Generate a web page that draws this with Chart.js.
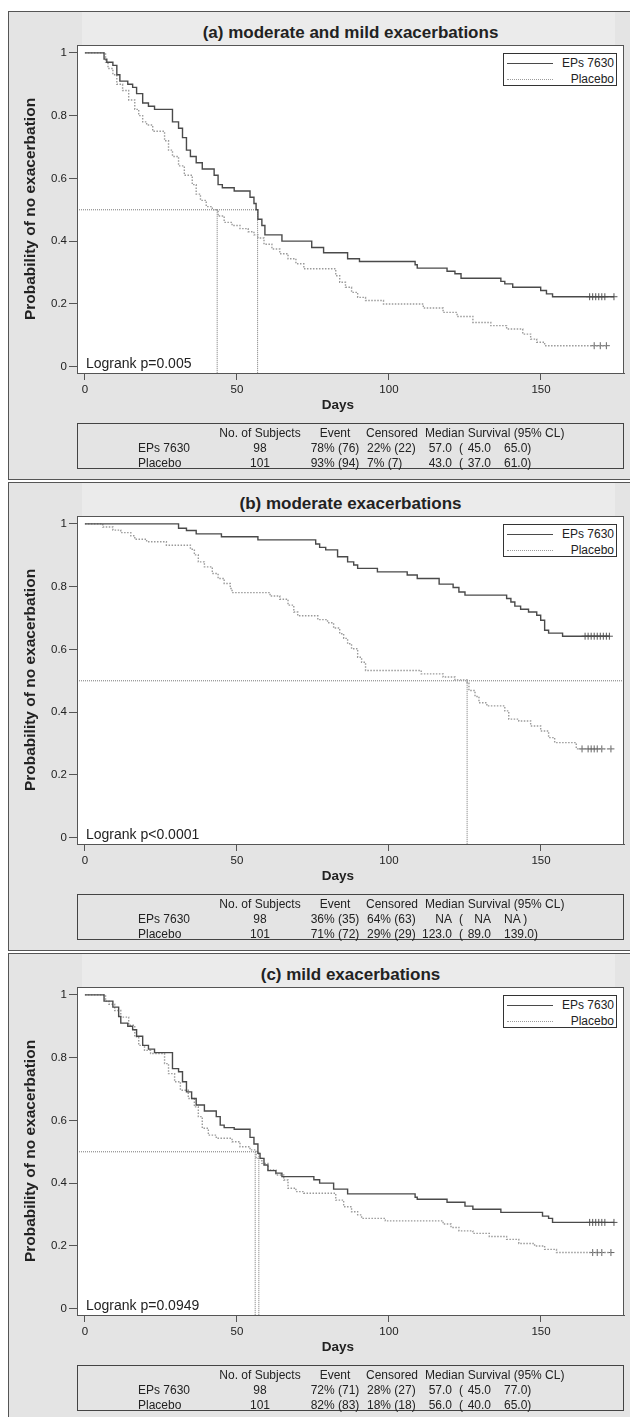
<!DOCTYPE html>
<html>
<head>
<meta charset="utf-8">
<script src="https://cdn.jsdelivr.net/npm/chart.js@4.4.1/dist/chart.umd.min.js"></script>
<style>
  body { margin: 0; background: #fff; width: 630px; height: 1417px; overflow: hidden; position: relative;
         font-family: "Liberation Sans", Arial, sans-serif; color: #222; }
  .panel { position: absolute; left: 8px; width: 640px; height: 469px; background: #e4e4e4;
           border: 1px solid #555; box-sizing: border-box; }
  .band { position: absolute; left: 73px; top: 0; width: 533px; height: 33px; background: #ebebeb; }
  .title { position: absolute; left: 68px; width: 547px; top: 11px; text-align: center;
           font-weight: bold; font-size: 17px; line-height: 20px; }
  canvas { position: absolute; left: 0; top: 0; }
  .legend { position: absolute; left: 494px; top: 41px; width: 114px; height: 33px; background: #fff;
            border: 1px solid #333; box-sizing: border-box; font-size: 12px; }
  .legend div { position: absolute; right: 2px; line-height: 14px; }
  .legend span { position: absolute; left: 3px; width: 46px; height: 0; }
  .logrank { position: absolute; left: 77px; font-size: 14px; line-height: 16px; }
  .days { position: absolute; left: 300px; width: 58px; text-align: center; top: 385px;
          font-weight: bold; font-size: 13.5px; line-height: 16px; }
  .table { position: absolute; left: 68px; top: 411px; width: 547px; height: 46px; border: 1px solid #444;
           box-sizing: border-box; font-size: 12px; }
  .table span { position: absolute; line-height: 14px; white-space: pre; }
</style>
</head>
<body>
<script>
// axis ticks
const xTicks = [0, 50, 100, 150];
const yTicks = [0, 0.2, 0.4, 0.6, 0.8, 1];
const xMin = -2.6, xMax = 177.3, yMin = -0.02, yMax = 1.025;
const groups = ["EPs 7630", "Placebo"];
const tableHead = ["No. of Subjects", "Event", "Censored", "Median Survival (95% CL)"];

// (a) moderate and mild exacerbations
const aTitle = "(a) moderate and mild exacerbations";
const aLogrank = "Logrank p=0.005";
const aEpsDays = [0, 6.3, 7.2, 9.2, 10.5, 11.5, 14.1, 15.7, 17.0, 19.0, 20.9, 22.9, 28.8, 30.8, 32.1, 33.4, 34.7, 36.6, 38.6, 42.5, 43.8, 45.2, 49.1, 54.3, 55.6, 56.3, 56.9, 58.2, 59.2, 64.8, 74.6, 78.5, 86.4, 90.3, 108.6, 109.3, 119.1, 121.7, 123.7, 136.8, 138.1, 140.7, 149.9, 151.8, 153.8];
const aEpsSurv = [1, 0.98, 0.97, 0.96, 0.93, 0.91, 0.90, 0.89, 0.87, 0.84, 0.83, 0.82, 0.78, 0.76, 0.73, 0.69, 0.67, 0.65, 0.63, 0.61, 0.58, 0.57, 0.56, 0.54, 0.52, 0.50, 0.47, 0.45, 0.42, 0.40, 0.38, 0.363, 0.344, 0.335, 0.325, 0.314, 0.304, 0.296, 0.282, 0.272, 0.264, 0.253, 0.243, 0.232, 0.223];
const aPlbDays = [0, 6.8, 7.6, 9.2, 10.5, 12.4, 14.4, 16.4, 17.7, 19.0, 20.3, 22.3, 26.2, 27.5, 28.8, 30.8, 32.7, 35.3, 36.6, 38.0, 39.9, 41.9, 43.8, 45.8, 48.4, 51.0, 53.7, 55.6, 56.9, 58.9, 61.5, 64.1, 66.8, 69.4, 72.0, 82.5, 83.8, 85.7, 87.7, 89.7, 92.3, 98.2, 111.3, 117.8, 122.4, 127.6, 133.5, 138.7, 144.0, 146.6, 148.6, 151.2, 153.1];
const aPlbSurv = [1, 0.97, 0.95, 0.93, 0.90, 0.88, 0.85, 0.82, 0.80, 0.78, 0.77, 0.75, 0.72, 0.69, 0.67, 0.64, 0.61, 0.58, 0.55, 0.53, 0.51, 0.50, 0.48, 0.46, 0.45, 0.44, 0.43, 0.42, 0.41, 0.39, 0.375, 0.36, 0.344, 0.328, 0.312, 0.29, 0.269, 0.253, 0.237, 0.221, 0.211, 0.20, 0.187, 0.173, 0.16, 0.141, 0.131, 0.12, 0.104, 0.088, 0.078, 0.067, 0.067];
const aEpsCens = [166.0, 167.0, 168.0, 169.0, 170.0, 171.0, 174.0];
const aPlbCens = [167.5, 169.5, 171.5];
const aMedianDays = [43.5, 56.8];
const aSubjects = ["98", "101"];
const aEvent = ["78% (76)", "93% (94)"];
const aCensored = ["22% (22)", "7% (7)"];
const aMedian = ["57.0", "43.0"];
const aLower = ["45.0", "37.0"];
const aUpper = ["65.0)", "61.0)"];

// (b) moderate exacerbations
const bTitle = "(b) moderate exacerbations";
const bLogrank = "Logrank p<0.0001";
const bEpsDays = [0, 30.8, 33.4, 36.6, 44.9, 56.9, 75.9, 77.2, 79.2, 83.1, 86.4, 88.4, 89.7, 96.2, 106.0, 109.3, 116.5, 121.1, 123.0, 125.0, 138.7, 140.1, 141.4, 143.3, 145.9, 148.6, 149.9, 151.2, 152.5, 157.1];
const bEpsSurv = [1, 0.986, 0.979, 0.968, 0.959, 0.949, 0.936, 0.925, 0.917, 0.895, 0.879, 0.869, 0.858, 0.847, 0.837, 0.826, 0.808, 0.797, 0.783, 0.773, 0.762, 0.751, 0.738, 0.728, 0.719, 0.709, 0.693, 0.661, 0.652, 0.642];
const bPlbDays = [0, 5.9, 9.2, 11.8, 15.1, 16.4, 20.3, 26.8, 34.7, 36.0, 37.3, 39.3, 41.9, 43.8, 45.8, 47.8, 48.4, 60.9, 64.1, 66.8, 68.7, 70.0, 76.6, 79.8, 81.8, 83.8, 85.1, 86.4, 87.7, 89.7, 91.0, 92.3, 110.6, 117.8, 121.7, 125.7, 126.3, 128.3, 129.6, 132.2, 138.1, 139.4, 142.7, 146.6, 149.9, 152.5, 154.5, 161.6];
const bPlbSurv = [1, 0.99, 0.98, 0.972, 0.962, 0.951, 0.943, 0.932, 0.919, 0.901, 0.879, 0.863, 0.842, 0.826, 0.81, 0.794, 0.781, 0.77, 0.76, 0.741, 0.719, 0.707, 0.695, 0.685, 0.668, 0.65, 0.635, 0.618, 0.602, 0.575, 0.559, 0.533, 0.522, 0.512, 0.503, 0.492, 0.469, 0.45, 0.43, 0.42, 0.404, 0.378, 0.372, 0.356, 0.34, 0.319, 0.303, 0.283];
const bEpsCens = [164.5, 165.5, 166.5, 167.5, 168.5, 169.5, 170.5, 171.5, 172.5];
const bPlbCens = [163.5, 165.5, 166.5, 167.5, 168.5, 170.0, 173.0];
const bMedianDays = [125.7];
const bSubjects = ["98", "101"];
const bEvent = ["36% (35)", "71% (72)"];
const bCensored = ["64% (63)", "29% (29)"];
const bMedian = ["NA", "123.0"];
const bLower = ["NA", "89.0"];
const bUpper = ["NA )", "139.0)"];

// (c) mild exacerbations
const cTitle = "(c) mild exacerbations";
const cLogrank = "Logrank p=0.0949";
const cEpsDays = [0, 6.3, 9.2, 11.1, 11.8, 14.1, 15.7, 17.0, 19.0, 20.9, 22.9, 28.8, 30.8, 32.1, 33.4, 35.1, 36.6, 39.3, 43.2, 44.5, 45.8, 49.1, 54.3, 55.6, 56.9, 57.6, 58.9, 60.2, 62.8, 64.8, 75.3, 77.2, 81.8, 86.4, 108.6, 109.3, 119.1, 125.0, 127.6, 136.8, 150.5, 152.5, 153.8];
const cEpsSurv = [1, 0.98, 0.961, 0.931, 0.91, 0.90, 0.889, 0.868, 0.839, 0.827, 0.816, 0.765, 0.755, 0.723, 0.691, 0.67, 0.649, 0.63, 0.612, 0.585, 0.577, 0.572, 0.546, 0.525, 0.495, 0.479, 0.458, 0.44, 0.432, 0.421, 0.411, 0.40, 0.381, 0.366, 0.355, 0.349, 0.339, 0.327, 0.317, 0.307, 0.295, 0.288, 0.275];
const cPlbDays = [0, 6.8, 7.9, 9.8, 11.8, 14.4, 16.4, 17.7, 19.6, 21.6, 26.2, 27.5, 29.5, 31.4, 34.0, 36.0, 37.3, 38.6, 40.6, 43.2, 48.4, 51.0, 54.3, 56.3, 58.2, 60.2, 62.8, 65.4, 66.8, 69.4, 72.0, 82.5, 85.1, 87.7, 89.7, 91.0, 98.8, 117.8, 120.4, 123.0, 127.6, 133.0, 138.7, 142.7, 147.9, 151.2, 155.1];
const cPlbSurv = [1, 0.98, 0.97, 0.95, 0.929, 0.903, 0.866, 0.839, 0.823, 0.813, 0.781, 0.749, 0.723, 0.696, 0.67, 0.643, 0.612, 0.575, 0.553, 0.543, 0.532, 0.516, 0.506, 0.479, 0.463, 0.442, 0.426, 0.41, 0.384, 0.373, 0.368, 0.346, 0.325, 0.309, 0.299, 0.288, 0.28, 0.27, 0.259, 0.248, 0.24, 0.23, 0.221, 0.208, 0.20, 0.189, 0.179];
const cEpsCens = [166.0, 167.0, 168.0, 169.0, 170.0, 171.0, 174.0];
const cPlbCens = [167.0, 168.5, 170.0, 173.0];
const cMedianDays = [56, 57.2];
const cSubjects = ["98", "101"];
const cEvent = ["72% (71)", "82% (83)"];
const cCensored = ["28% (27)", "18% (18)"];
const cMedian = ["57.0", "56.0"];
const cLower = ["45.0", "40.0"];
const cUpper = ["77.0)", "65.0)"];

const epsColor = "#4a4a4a";
const plbColor = "#9a9a9a";
const refColor = "#777";

const plotBox = {
  id: "plotBox",
  beforeDraw(chart) {
    const a = chart.chartArea, ctx = chart.ctx;
    ctx.save();
    ctx.fillStyle = "#fff";
    ctx.fillRect(a.left, a.top, a.right - a.left, a.bottom - a.top);
    ctx.restore();
  },
  afterDraw(chart) {
    const a = chart.chartArea, ctx = chart.ctx;
    ctx.save();
    ctx.strokeStyle = "#555";
    ctx.lineWidth = 1;
    ctx.strokeRect(a.left + 0.5, a.top + 0.5, a.right - a.left - 1, a.bottom - a.top);
    ctx.restore();
  }
};

function km(days, surv, end) {
  const pts = days.map((d, i) => ({ x: d, y: surv[i] }));
  pts.push({ x: end, y: surv[surv.length - 1] });
  return pts;
}

function marks(days, level) {
  return days.map(d => ({ x: d, y: level }));
}

function addText(parent, cls, text, style) {
  const el = document.createElement("div");
  el.className = cls;
  el.textContent = text;
  Object.assign(el.style, style || {});
  parent.appendChild(el);
  return el;
}

function makePanel(top, p) {
  const panel = document.createElement("div");
  panel.className = "panel";
  panel.style.top = top + "px";
  document.body.appendChild(panel);
  addText(panel, "band", "");
  addText(panel, "title", p.title);

  const canvas = document.createElement("canvas");
  canvas.style.width = "620px";
  canvas.style.height = "412px";
  panel.appendChild(canvas);

  const epsEnd = p.epsCens[p.epsCens.length - 1];
  const plbEnd = p.plbCens[p.plbCens.length - 1];
  const epsLast = p.epsSurv[p.epsSurv.length - 1];
  const plbLast = p.plbSurv[p.plbSurv.length - 1];

  // median reference lines at 0.5
  const refSets = [{ data: [{ x: xMin, y: 0.5 }, { x: p.medianEnd, y: 0.5 }] }];
  p.medianDays.forEach(d => refSets.push({ data: [{ x: d, y: 0.5 }, { x: d, y: yMin }] }));

  const datasets = [
    { label: groups[0], data: km(p.epsDays, p.epsSurv, epsEnd), stepped: true,
      borderColor: epsColor, borderWidth: 1.4, pointRadius: 0 },
    { label: groups[1], data: km(p.plbDays, p.plbSurv, plbEnd), stepped: true,
      borderColor: plbColor, borderWidth: 1.4, borderDash: [1.5, 1.5], pointRadius: 0 },
    { label: "cens1", data: marks(p.epsCens, epsLast), showLine: false,
      pointStyle: "cross", pointRadius: 3.5, borderColor: "#555", borderWidth: 1 },
    { label: "cens2", data: marks(p.plbCens, plbLast), showLine: false,
      pointStyle: "cross", pointRadius: 3.5, borderColor: "#666", borderWidth: 1 }
  ];
  refSets.forEach(r => datasets.push(Object.assign(r, {
    label: "ref", borderColor: refColor, borderWidth: 1, borderDash: [1, 1], pointRadius: 0 })));

  new Chart(canvas, {
    type: "line",
    data: { datasets: datasets },
    options: {
      responsive: false,
      animation: false,
      events: [],
      layout: { padding: { left: 0, top: 33, right: 5, bottom: 0 } },
      plugins: { legend: { display: false }, tooltip: { enabled: false } },
      scales: {
        x: {
          type: "linear", min: xMin, max: xMax,
          afterBuildTicks: s => { s.ticks = xTicks.map(v => ({ value: v })); },
          afterFit: s => { s.height = 51; },
          grid: { display: true, drawOnChartArea: false, drawTicks: true, tickLength: 7, color: "#555" },
          border: { display: true, color: "#555", width: 1 },
          ticks: { color: "#222", font: { family: "Liberation Sans", size: 11.5 }, padding: 3, maxRotation: 0 }
        },
        y: {
          type: "linear", min: yMin, max: yMax,
          afterBuildTicks: s => { s.ticks = yTicks.map(v => ({ value: v })); },
          afterFit: s => { s.width = 68; },
          grid: { display: true, drawOnChartArea: false, drawTicks: true, tickLength: 8, color: "#555" },
          border: { display: true, color: "#555", width: 1 },
          ticks: { color: "#222", font: { family: "Liberation Sans", size: 11.5 }, padding: 2,
                   callback: v => String(v) },
          title: { display: true, text: "Probability of no exacerbation", color: "#222",
                   font: { family: "Liberation Sans", size: 15.5, weight: "bold" }, padding: { top: 12, bottom: 0 } }
        }
      }
    },
    plugins: [plotBox]
  });

  // legend inside plot
  const lg = addText(panel, "legend", "");
  groups.forEach((g, i) => {
    const t = document.createElement("div");
    t.textContent = g;
    t.style.top = (i === 0 ? 2 : 18) + "px";
    lg.appendChild(t);
    const s = document.createElement("span");
    s.style.top = (i === 0 ? 9 : 25) + "px";
    s.style.borderTop = i === 0 ? "1px solid " + epsColor : "1px dotted " + plbColor;
    lg.appendChild(s);
  });

  addText(panel, "logrank", p.logrank, { top: "343px" });
  addText(panel, "days", "Days");

  // summary table
  const tb = addText(panel, "table", "");
  const cell = (txt, x, y, align) => {
    const s = document.createElement("span");
    s.textContent = txt;
    s.style.top = y + "px";
    if (align === "center") { s.style.left = (x - 60) + "px"; s.style.width = "120px"; s.style.textAlign = "center"; }
    else if (align === "right") { s.style.right = (545 - x) + "px"; }
    else { s.style.left = x + "px"; }
    tb.appendChild(s);
  };
  cell(tableHead[0], 182, 2, "center");
  cell(tableHead[1], 257, 2, "center");
  cell(tableHead[2], 288, 2);
  cell(tableHead[3], 347, 2);
  [0, 1].forEach(i => {
    const y = 17 + i * 14.5;
    cell(groups[i], 60, y);
    cell(p.subjects[i], 182, y, "center");
    cell(p.event[i], 257, y, "center");
    cell(p.censored[i], 289, y);
    cell(p.median[i], 374, y, "right");
    cell("(", 381, y);
    cell(p.lower[i], 413, y, "right");
    cell(p.upper[i], 426, y);
  });
}

makePanel(11, { title: aTitle, logrank: aLogrank, epsDays: aEpsDays, epsSurv: aEpsSurv, plbDays: aPlbDays, plbSurv: aPlbSurv,
  epsCens: aEpsCens, plbCens: aPlbCens, medianDays: aMedianDays, medianEnd: aMedianDays[aMedianDays.length - 1],
  subjects: aSubjects, event: aEvent, censored: aCensored, median: aMedian, lower: aLower, upper: aUpper });
makePanel(482, { title: bTitle, logrank: bLogrank, epsDays: bEpsDays, epsSurv: bEpsSurv, plbDays: bPlbDays, plbSurv: bPlbSurv,
  epsCens: bEpsCens, plbCens: bPlbCens, medianDays: bMedianDays, medianEnd: xMax,
  subjects: bSubjects, event: bEvent, censored: bCensored, median: bMedian, lower: bLower, upper: bUpper });
makePanel(953, { title: cTitle, logrank: cLogrank, epsDays: cEpsDays, epsSurv: cEpsSurv, plbDays: cPlbDays, plbSurv: cPlbSurv,
  epsCens: cEpsCens, plbCens: cPlbCens, medianDays: cMedianDays, medianEnd: cMedianDays[cMedianDays.length - 1],
  subjects: cSubjects, event: cEvent, censored: cCensored, median: cMedian, lower: cLower, upper: cUpper });
</script>
</body>
</html>
